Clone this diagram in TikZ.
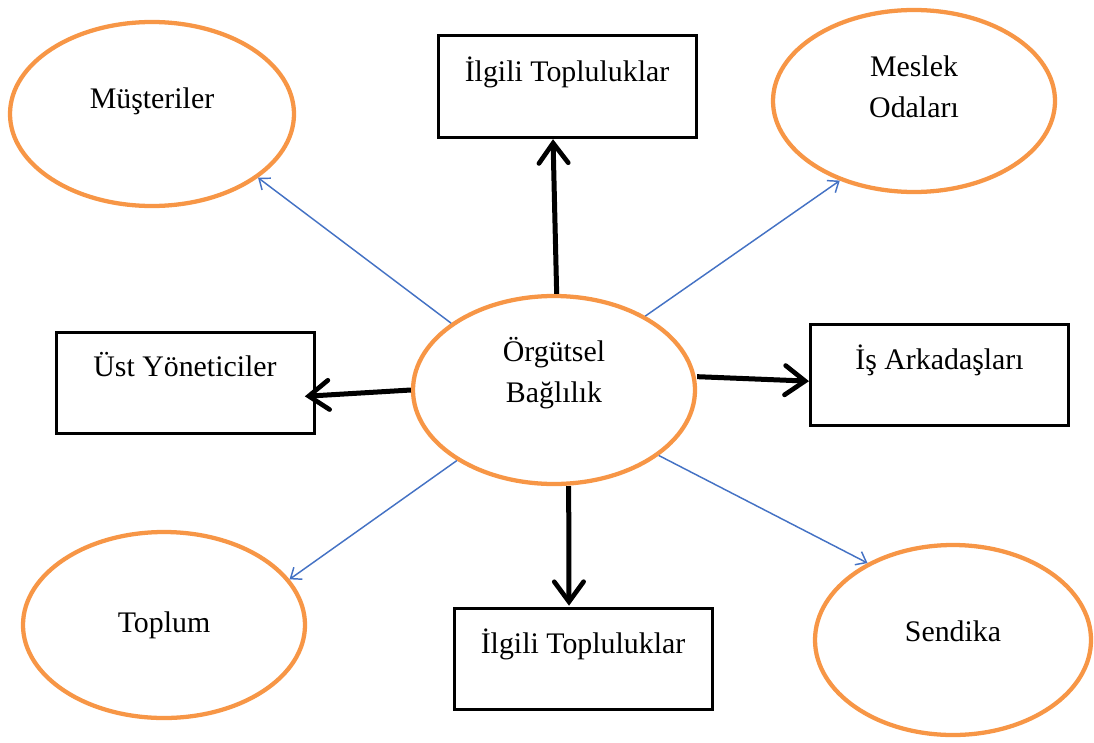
\documentclass[tikz,border=0pt]{standalone}
\usepackage{fontspec}
\setmainfont{Liberation Serif}
\usetikzlibrary{shapes.geometric,arrows.meta}
\definecolor{ornge}{HTML}{F79646}
\definecolor{blu}{HTML}{4472C4}
\newcommand{\lift}[2][10.5pt]{\raisebox{#1}[\height][\depth]{\begin{tabular}{@{}c@{}}#2\end{tabular}}}
\tikzset{
  oval/.style={ellipse,draw=ornge,line width=3.2pt,inner sep=0pt,fill=white},
  boxn/.style={rectangle,draw=black,line width=2.25pt,inner sep=0pt,minimum width=193.5pt,minimum height=75.75pt,fill=white},
  thick arrow/.style={line width=3.75pt,-{Straight Barb[length=15pt,width=22pt,line width=3.5pt,line cap=round]}},
  thin arrow/.style={blu,line width=1.1pt,-{Straight Barb[length=7pt,width=11pt,line width=1.1pt]}},
  every node/.style={font=\fontsize{22.4}{30.75}\selectfont}
}
\begin{document}
\begin{tikzpicture}[x=0.75pt,y=-0.75pt]
\useasboundingbox (0,0) rectangle (1094,742);
% ellipses
\node[oval,minimum width=211.5pt,minimum height=141pt] (c) at (554,390) {\lift[12.4pt]{Örgütsel\\Bağlılık}};
\node[oval,minimum width=213pt,minimum height=138pt] (m) at (152,114) {\lift[10.5pt]{Müşteriler}};
\node[oval,minimum width=211.5pt,minimum height=136.5pt] (mo) at (914,101) {\lift[9.4pt]{Meslek\\Odaları}};
\node[oval,minimum width=211.5pt,minimum height=139.5pt] (t) at (164,625) {\lift[0.75pt]{Toplum}};
\node[oval,minimum width=207pt,minimum height=142.5pt] (s) at (953,640) {\lift[5.25pt]{Sendika}};
% boxes
\node[boxn] (it) at (567,86.5) {\lift[10pt]{İlgili Topluluklar}};
\node[boxn] (uy) at (185,383) {\lift[11.25pt]{Üst Yöneticiler}};
\node[boxn] (ia) at (939.5,374.5) {\lift[10pt]{İş Arkadaşları}};
\node[boxn] (ib) at (583,659) {\lift[10.5pt]{İlgili Topluluklar}};
% black arrows
\draw[thick arrow] ([xshift=2pt]c.north) -- ([xshift=-10.5pt,yshift=-0.5pt]it.south);
\draw[thick arrow] (c.west) -- ([yshift=-10pt,xshift=-8pt]uy.east);
\draw[thick arrow] ([yshift=10pt]c.east) -- ([yshift=-5pt]ia.west);
\draw[thick arrow] ([xshift=11pt]c.south) -- ([xshift=-10.5pt,yshift=1pt]ib.north);
% blue arrows
\draw[thin arrow] (c.147.8) -- (m.-31.9);
\draw[thin arrow] (c.39) -- (mo.-133.5);
\draw[thin arrow] (c.216) -- (t.20.7);
\draw[thin arrow] (c.-32.8) -- (s.138);
\end{tikzpicture}
\end{document}
